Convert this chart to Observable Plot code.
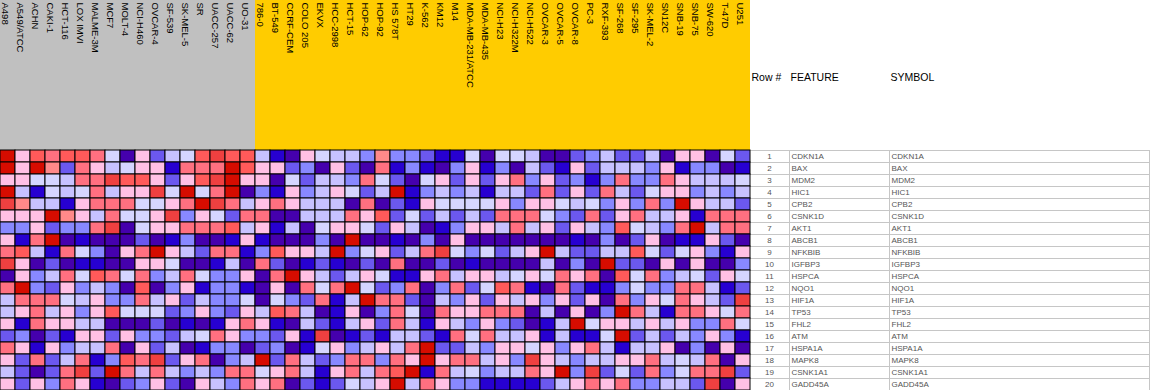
<!DOCTYPE html>
<html>
<head>
<meta charset="utf-8">
<script src="https://cdn.jsdelivr.net/npm/d3@7"></script>
<script src="https://cdn.jsdelivr.net/npm/@observablehq/plot@0.6"></script>
<style>
  html, body { margin: 0; padding: 0; background: #fff; }
  #chart svg { display: block; }
</style>
</head>
<body>
<div id="chart"></div>
<script>
// Column (sample) labels, grouped by the two header classes
const greyColumns = ["A498","A549/ATCC","ACHN","CAKI-1","HCT-116","LOX IMVI","MALME-3M","MCF7","MOLT-4","NCI-H460","OVCAR-4","SF-539","SK-MEL-5","SR","UACC-257","UACC-62","UO-31"];
const orangeColumns = ["786-0","BT-549","CCRF-CEM","COLO 205","EKVX","HCC-2998","HCT-15","HOP-62","HOP-92","HS 578T","HT29","K-562","KM12","M14","MDA-MB-231/ATCC","MDA-MB-435","NCI-H23","NCI-H322M","NCI-H522","OVCAR-3","OVCAR-5","OVCAR-8","PC-3","RXF-393","SF-268","SF-295","SK-MEL-2","SN12C","SNB-19","SNB-75","SW-620","T-47D","U251"];

// Row labels
const features = ["CDKN1A","BAX","MDM2","HIC1","CPB2","CSNK1D","AKT1","ABCB1","NFKBIB","IGFBP3","HSPCA","NQO1","HIF1A","TP53","FHL2","ATM","HSPA1A","MAPK8","CSNK1A1","GADD45A"];
const symbols  = ["CDKN1A","BAX","MDM2","HIC1","CPB2","CSNK1D","AKT1","ABCB1","NFKBIB","IGFBP3","HSPCA","NQO1","HIF1A","TP53","FHL2","ATM","HSPA1A","MAPK8","CSNK1A1","GADD45A"];

// Row-relative expression level (0 = lowest / dark blue ... 11 = highest / deep red), one array per gene
const CDKN1A  = [11,6,9,8,9,9,8,5,0,6,2,4,5,9,10,9,9, 4,1,0,6,5,4,4,3,7,3,3,2,1,1,5,0,5, 5,4,0,0,2,3,4,2,2,4,0,6,6,0,5,2];
const BAX     = [11,6,11,7,2,8,6,4,5,6,6,1,8,8,8,11,9, 6,6,2,3,0,6,2,0,8,1,3,1,0,3,6,1,3, 0,4,2,1,6,2,4,4,4,3,6,1,3,3,0,1];
const MDM2    = [6,6,5,5,4,8,8,10,9,9,6,2,6,9,10,11,6, 6,0,5,2,4,4,3,8,5,2,0,5,6,2,6,2,6, 8,3,6,2,3,1,3,8,3,3,8,6,4,4,4,5];
const HIC1    = [11,4,1,5,4,5,8,4,6,6,10,5,11,5,8,11,0, 3,1,6,3,4,6,5,2,4,11,1,3,4,3,4,1,4, 4,2,8,2,6,2,8,4,2,5,6,6,3,4,3,4];
const CPB2    = [10,7,4,4,1,6,8,8,8,5,5,6,8,11,10,8,4, 6,8,6,4,4,4,0,8,0,2,1,6,5,5,5,5,6, 3,6,6,5,4,5,3,6,3,8,3,11,6,4,4,2];
const CSNK1D  = [6,6,6,11,7,6,4,8,5,5,6,10,3,6,5,2,8, 8,0,0,4,4,4,8,6,9,2,5,2,4,2,4,2,8, 8,8,5,3,2,8,2,6,8,4,4,6,1,8,8,8];
const AKT1    = [3,3,6,2,3,3,8,10,0,5,6,6,8,8,8,9,4, 6,1,4,0,5,6,6,5,2,6,4,0,1,3,6,6,4, 8,4,6,2,6,4,3,9,5,4,3,8,11,4,8,8];
const ABCB1   = [6,1,8,11,0,1,0,0,0,2,0,1,3,0,0,1,6, 1,0,0,0,3,0,11,0,0,1,0,3,0,6,0,0,0, 0,0,0,0,1,0,3,0,2,6,0,1,1,6,2,0];
const NFKBIB  = [8,9,4,1,8,5,3,0,6,8,11,6,4,2,8,8,1, 3,9,6,6,4,11,3,5,6,2,4,8,10,5,3,5,2, 4,6,11,4,2,2,4,4,9,5,2,5,6,3,1,6];
const IGFBP3  = [10,6,0,2,0,1,1,0,0,6,6,5,0,0,1,4,0, 8,2,0,1,2,1,0,2,0,8,0,0,2,0,1,0,0, 0,0,4,0,3,0,11,2,2,0,6,0,6,0,0,3];
const HSPCA   = [0,6,3,4,8,5,9,8,5,8,3,4,8,5,3,3,6, 0,8,11,6,4,2,4,6,5,1,1,6,8,4,6,6,4, 5,6,5,8,6,8,0,9,5,8,3,4,5,2,6,5];
const NQO1    = [8,11,3,2,6,3,4,3,0,9,0,3,6,1,3,3,1, 0,6,0,8,5,8,11,5,2,3,8,0,3,8,2,5,9, 8,1,0,8,2,1,1,3,5,3,3,8,8,4,1,2];
const HIF1A   = [4,8,8,8,5,4,6,3,3,8,4,6,2,4,3,3,5, 0,5,3,2,8,1,4,11,8,8,2,0,4,3,6,2,6, 4,6,3,6,2,6,0,8,3,6,5,8,6,4,2,10];
const TP53    = [4,6,8,4,6,3,6,9,5,5,5,2,3,6,3,2,6, 4,9,8,4,0,1,6,0,3,8,5,0,8,6,6,8,8, 8,0,4,0,6,0,3,11,8,4,1,8,8,6,5,8];
const FHL2    = [6,1,8,6,6,4,4,0,0,0,2,0,1,0,1,6,8, 6,1,0,4,2,1,4,6,2,8,4,1,6,4,3,6,3, 2,0,1,4,11,5,6,6,4,6,4,6,3,3,8,5];
const ATM     = [2,3,0,2,1,6,6,2,6,3,3,2,4,5,8,6,3, 3,2,6,1,10,0,1,2,1,4,4,2,1,8,5,8,4, 4,6,1,4,1,1,5,11,2,4,2,4,3,6,3,1];
const HSPA1A  = [8,6,1,6,3,4,4,8,0,6,2,4,0,1,3,3,0, 2,3,0,1,5,6,3,4,6,4,8,11,2,2,4,3,6, 6,5,6,3,6,8,4,1,4,4,6,0,3,0,6,0];
const MAPK8   = [6,2,8,2,4,8,1,3,9,8,10,2,6,8,0,3,4, 11,2,8,4,2,3,8,8,3,8,6,11,6,8,8,4,6, 3,10,6,4,3,4,4,6,6,8,4,5,4,8,0,6];
const CSNK1A1 = [4,2,0,2,8,10,2,11,8,4,8,4,3,4,3,8,8, 5,6,8,4,1,6,8,4,8,9,11,1,8,4,5,3,4, 4,8,6,11,3,10,2,5,2,8,3,5,8,8,10,2];
const GADD45A = [6,2,6,3,8,6,1,0,2,3,6,2,0,6,4,3,8, 6,8,0,2,1,2,5,4,6,11,4,8,6,3,3,1,1, 1,1,2,4,6,8,6,8,3,3,4,4,2,10,0,6];

// GenePattern-style relative colour ramp (styling)
const palette = ["#4500AD","#2700D1","#6B58EF","#8888FF","#C7C1FF","#D5D5FF","#FFC0E5","#FF8989","#FF7080","#FF5A5A","#EF4040","#D60C00"];

const columns = greyColumns.concat(orangeColumns);
const matrix = [CDKN1A,BAX,MDM2,HIC1,CPB2,CSNK1D,AKT1,ABCB1,NFKBIB,IGFBP3,HSPCA,NQO1,HIF1A,TP53,FHL2,ATM,HSPA1A,MAPK8,CSNK1A1,GADD45A];
const cells = matrix.flatMap((vals, r) => vals.map((v, c) => ({feature: features[r], column: columns[c], level: v})));
const table = features.map((f, i) => ({feature: f, row: String(i + 1), symbol: symbols[i]}));

const font = "'Liberation Sans', Arial, sans-serif";
const lineGrey = "#c6c6c6";

const chart = Plot.plot({
  width: 1150,
  height: 390,
  margin: 0,
  style: {background: "#fff", fontFamily: font, fontSize: "10px", color: "#000"},
  x: {domain: columns, range: [0, 750], padding: 0, axis: null},
  y: {domain: features, range: [150, 390], padding: 0, axis: null},
  color: {type: "ordinal", domain: d3.range(palette.length), range: palette},
  marks: [
    // table grid
    Plot.ruleY(table, {y: "feature", dy: 6, stroke: lineGrey}),
    Plot.ruleY(table.slice(0, 1), {y: "feature", dy: -6, stroke: lineGrey}),
    Plot.frame({insetLeft: 789, insetTop: 150, insetRight: 1, stroke: lineGrey}),
    Plot.frame({insetLeft: 889, insetTop: 150, insetRight: 1, stroke: lineGrey}),
    // header bands
    Plot.cell(greyColumns, {x: d => d, fill: "#c0c0c0"}),
    Plot.cell(orangeColumns, {x: d => d, fill: "#ffcc00"}),
    // heatmap
    Plot.cell(cells, {x: "column", y: "feature", fill: "level", stroke: "#000", strokeWidth: 1}),
    // column labels
    Plot.text(columns, {x: d => d, text: d => d, frameAnchor: "top", rotate: 90, textAnchor: "start",
      dx: 1, dy: 2, fontSize: 9.5, fill: "#000"}),
    // table header
    Plot.text(["Row #"], {text: d => d, frameAnchor: "top-left", textAnchor: "start", dx: 751, dy: 73, fontSize: 10.5, fill: "#000"}),
    Plot.text(["FEATURE"], {text: d => d, frameAnchor: "top-left", textAnchor: "start", dx: 790, dy: 73, fontSize: 10.5, fill: "#000"}),
    Plot.text(["SYMBOL"], {text: d => d, frameAnchor: "top-left", textAnchor: "start", dx: 890, dy: 73, fontSize: 10.5, fill: "#000"}),
    // table body
    Plot.text(table, {y: "feature", text: "row", frameAnchor: "left", textAnchor: "middle", dx: 769, fontSize: 8, fill: "#555"}),
    Plot.text(table, {y: "feature", text: "feature", frameAnchor: "left", textAnchor: "start", dx: 791, fontSize: 8, fill: "#555"}),
    Plot.text(table, {y: "feature", text: "symbol", frameAnchor: "left", textAnchor: "start", dx: 891, fontSize: 8, fill: "#555"})
  ]
});
document.getElementById("chart").append(chart);
</script>
</body>
</html>
